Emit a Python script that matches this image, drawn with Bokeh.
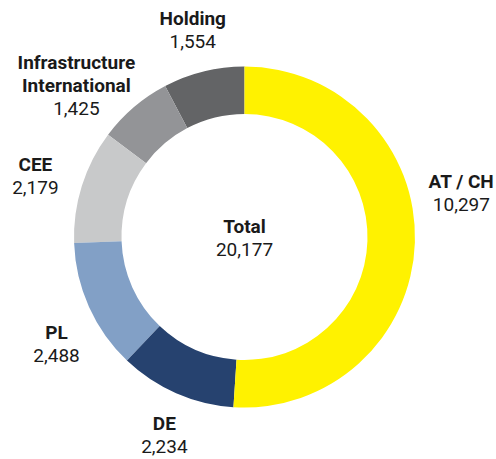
import math
from bokeh.plotting import figure
from bokeh.models import Range1d, ColumnDataSource
from bokeh.embed import file_html
from bokeh.resources import INLINE
from bokeh.core.properties import value

# ---- data ----
segments = ["AT / CH", "DE", "PL", "CEE", "Infrastructure\nInternational", "Holding"]
values = [10297, 2234, 2488, 2179, 1425, 1554]
colors = ["#FFF200", "#26426F", "#82A0C6", "#C8C9CA", "#939497", "#636466"]
total_title = "Total"

# ---- layout (image pixel space, y measured downward) ----
PAGE_W, PAGE_H = 496, 459
CX, CY = 244.0, 236.5
R_OUT, R_IN = 170.5, 123.0
R_LABEL = 216.0
LABEL_NUDGE = [(1, -50.7), (6.5, 0.6), (9, 18.5), (-3, 4), (-28, 13), (0, 3)]
LINE_GAP = 23.0
CAP = 14.0
TEXT_SHIFT = -7.0
FONT = "Roboto"
FONT_SIZE = "19px"
TEXT_COLOR = "#1a1a1a"

total = sum(values)


def ydata(y_img):
    return PAGE_H - y_img


p = figure(width=PAGE_W, height=PAGE_H, x_range=Range1d(0, PAGE_W), y_range=Range1d(0, PAGE_H),
           output_backend="svg", toolbar_location=None, min_border=0,
           x_axis_type=None, y_axis_type=None, outline_line_color=None,
           background_fill_color="white", border_fill_color="white")
p.grid.visible = False

# wedges (clockwise from 12 o'clock)
starts, ends = [], []
cum = 0
for v in values:
    starts.append(math.pi / 2 - 2 * math.pi * cum / total)
    cum += v
    ends.append(math.pi / 2 - 2 * math.pi * cum / total)

# draw in reverse order so the large yellow slice sits on top at the seams
src = ColumnDataSource(dict(x=[CX] * len(values), y=[ydata(CY)] * len(values),
                            start=starts[::-1], end=ends[::-1], color=colors[::-1]))
p.annular_wedge(x="x", y="y", inner_radius=R_IN, outer_radius=R_OUT,
                start_angle="start", end_angle="end", direction="clock",
                fill_color="color", line_color=None, source=src)

# labels
bx, by, bt = [], [], []
rx, ry, rt = [], [], []


def add_block(cx, cy, name_lines, val_text):
    n = len(name_lines) + 1
    height = (n - 1) * LINE_GAP + CAP
    top = cy - height / 2 + TEXT_SHIFT
    for k, line in enumerate(name_lines):
        bx.append(cx)
        by.append(ydata(top + CAP + k * LINE_GAP))
        bt.append(line)
    rx.append(cx)
    ry.append(ydata(top + CAP + (n - 1) * LINE_GAP))
    rt.append(val_text)


cum = 0
for name, v, (dx, dy) in zip(segments, values, LABEL_NUDGE):
    mid = 2 * math.pi * (cum + v / 2) / total
    cum += v
    lx = CX + R_LABEL * math.sin(mid) + dx
    ly = CY - R_LABEL * math.cos(mid) + dy
    add_block(lx, ly, name.split("\n"), f"{v:,}")

add_block(CX, CY + 0.5, [total_title], f"{total:,}")

p.text(x="x", y="y", text="t", source=ColumnDataSource(dict(x=bx, y=by, t=bt)),
       text_font=value(FONT), text_font_size=FONT_SIZE, text_font_style="bold",
       text_align="center", text_baseline="alphabetic", text_color=TEXT_COLOR)
p.text(x="x", y="y", text="t", source=ColumnDataSource(dict(x=rx, y=ry, t=rt)),
       text_font=value(FONT), text_font_size=FONT_SIZE, text_font_style="normal",
       text_align="center", text_baseline="alphabetic", text_color=TEXT_COLOR)

open("out.html", "w").write(file_html(p, INLINE))
